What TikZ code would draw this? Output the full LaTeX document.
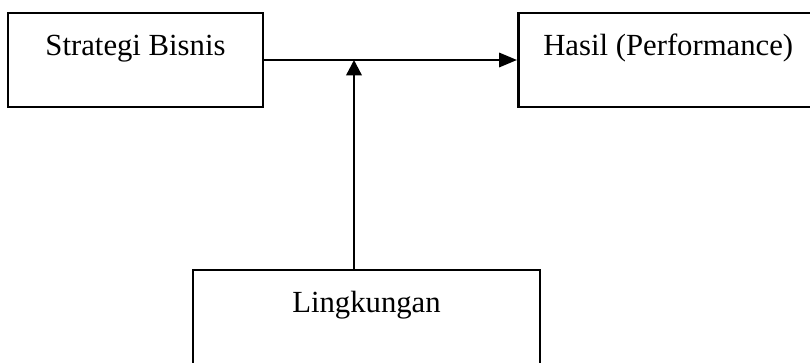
\documentclass[tikz,border=0pt]{standalone}
\usepackage{fontspec}
\setmainfont{Liberation Serif}
\usetikzlibrary{arrows.meta}

\begin{document}
\begin{tikzpicture}[x = 0.42pt, y = -0.42pt]
  \def \px {0.42pt};
  \def \boxline {1.05pt};
  \def \arrowline {1.0pt};

  \tikzset{
    blockbox/.style = {draw, line width = \boxline, inner sep = 0pt,
      font = \fontsize{12.9}{15}\selectfont, text height = 8pt},
    flowline/.style = {line width = \arrowline,
      -{Triangle[length = 7.5pt, width = 6pt]}}
  }

  % Fix the page and cut the boxes that run over its edges.
  \useasboundingbox (0, 0) rectangle (810, 363);
  \clip (0, 0) rectangle (810, 363);

  % Draw the three blocks.
  \node [blockbox, minimum width = 255*\px, minimum height = 94*\px,
    text depth = 12.2pt] (strategi) at (135.5, 60) {Strategi Bisnis};
  \node [blockbox, minimum width = 300*\px, minimum height = 94*\px,
    text depth = 12.2pt, anchor = west] (hasil) at (517, 60) {Hasil (Performance)};
  \node [blockbox, minimum width = 347*\px, minimum height = 130*\px,
    text depth = 27.3pt] (lingkungan) at (366.5, 335) {Lingkungan};

  % Draw the arrows between the blocks.
  \coordinate (junction) at (354, 60);
  \draw [flowline] (strategi.east) -- (hasil.west);
  \draw [flowline, -{Triangle[length = 6.5pt, width = 6.5pt]}] (lingkungan.north -| junction) -- (junction);
\end{tikzpicture}
\end{document}
